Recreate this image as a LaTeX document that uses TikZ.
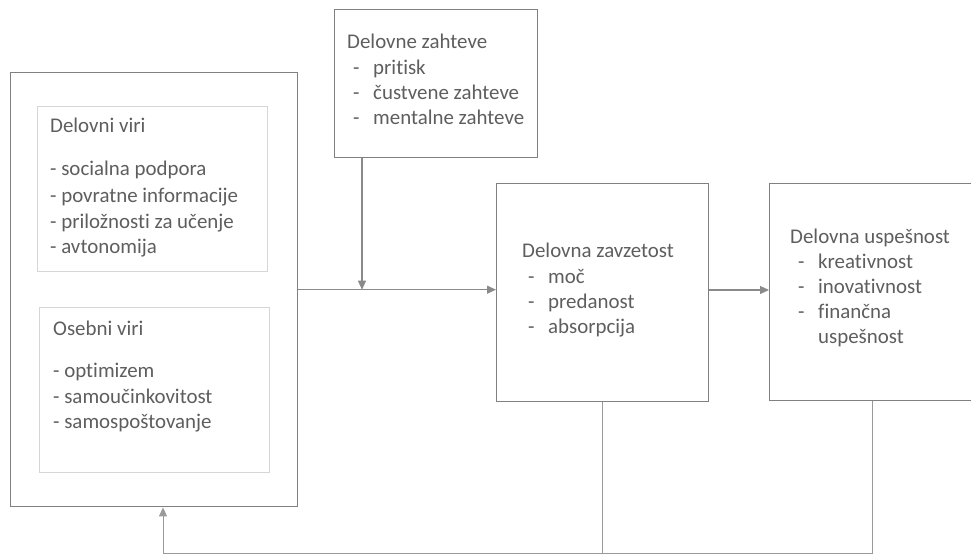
\documentclass[tikz,border=0pt]{standalone}
\usepackage{fontspec}
\setmainfont{Carlito}[Ligatures=NoCommon]
\usetikzlibrary{arrows.meta}
\definecolor{txtc}{HTML}{5E5E5E}
\definecolor{boxc}{HTML}{808080}
\definecolor{innerc}{HTML}{D6D6D6}
\definecolor{linec}{HTML}{8A8A8A}
\definecolor{fbc}{HTML}{9A9A9A}
\begin{document}
\begin{tikzpicture}[x=1pt,y=-1pt,
  mainbox/.style={draw=boxc, line width=1.4pt, inner sep=0pt, anchor=north west},
  innerbox/.style={draw=innerc, line width=1pt, inner sep=0pt, anchor=north west},
  lbl/.style={anchor=base west, inner sep=0pt, text=txtc, font=\fontsize{20.9}{25}\selectfont},
  conn/.style={draw=linec, line width=1.1pt},
  fb/.style={draw=fbc, line width=0.9pt},
  tip/.style={-{Triangle[length=9pt,width=8pt]}}]
\useasboundingbox (0,0) rectangle (971,556);
\clip (0,0) rectangle (971,556);
\fill[white] (0,0) rectangle (971,556);
% boxes
\node[mainbox, minimum width=287pt, minimum height=434pt] (outer) at (10,72) {};
\node[innerbox, minimum width=230pt, minimum height=165pt] (dv) at (37,106) {};
\node[innerbox, minimum width=230pt, minimum height=165pt] (ov) at (39,307) {};
\node[mainbox, minimum width=203pt, minimum height=148pt] (zah) at (334,9) {};
\node[mainbox, minimum width=212pt, minimum height=218pt] (zav) at (496,183) {};
\node[mainbox, minimum width=260pt, minimum height=217pt] (usp) at (769,183) {};
% Delovni viri
\node[lbl] (dv0) at (50,133) {Delovni viri};
\node[lbl] (dv1) at (50,176) {- socialna podpora};
\node[lbl] (dv2) at (50,202) {- povratne informacije};
\node[lbl] (dv3) at (50,228) {- priložnosti za učenje};
\node[lbl] (dv4) at (50,253) {- avtonomija};
% Osebni viri
\node[lbl] (ov0) at (53,335) {Osebni viri};
\node[lbl] (ov1) at (53,377) {- optimizem};
\node[lbl] (ov2) at (53,403) {- samoučinkovitost};
\node[lbl] (ov3) at (53,428) {- samospoštovanje};
% Delovne zahteve
\node[lbl] (za0) at (347,49) {Delovne zahteve};
\node[lbl] (za1d) at (353,75) {-};
\node[lbl] (za1) at (373,75) {pritisk};
\node[lbl] (za2d) at (353,100) {-};
\node[lbl] (za2) at (373,100) {čustvene zahteve};
\node[lbl] (za3d) at (353,125) {-};
\node[lbl] (za3) at (373,125) {mentalne zahteve};
% Delovna zavzetost
\node[lbl] (zv0) at (522,257) {Delovna zavzetost};
\node[lbl] (zv1d) at (528,283) {-};
\node[lbl] (zv1) at (548,283) {moč};
\node[lbl] (zv2d) at (528,308) {-};
\node[lbl] (zv2) at (548,308) {predanost};
\node[lbl] (zv3d) at (528,333) {-};
\node[lbl] (zv3) at (548,333) {absorpcija};
% Delovna uspesnost
\node[lbl] (us0) at (790,243) {Delovna uspešnost};
\node[lbl] (us1d) at (798,268) {-};
\node[lbl] (us1) at (818,268) {kreativnost};
\node[lbl] (us2d) at (798,293) {-};
\node[lbl] (us2) at (818,293) {inovativnost};
\node[lbl] (us3d) at (798,318) {-};
\node[lbl] (us3) at (818,318) {finančna};
\node[lbl] (us4) at (818,343) {uspešnost};
% connectors
\coordinate (j) at ([xshift=28pt]zah.south west |- outer.east);
\draw[conn, tip] (outer.east) -- (outer.east -| zav.west);
\draw[conn, tip] ([xshift=28pt]zah.south west) -- (j);
\draw[conn, tip] (zav.east |- 0,290) -- (usp.west |- 0,290);
\coordinate (b1) at (zav.south |- 0,553);
\coordinate (b2) at (872,553);
\coordinate (b0) at (163,553);
\draw[fb] (zav.south) -- (b1);
\draw[fb] (usp.south west -| b2) -- (b2) -- (b0);
\draw[fb, tip] (b0) -- (b0 |- outer.south);
\end{tikzpicture}
\end{document}
